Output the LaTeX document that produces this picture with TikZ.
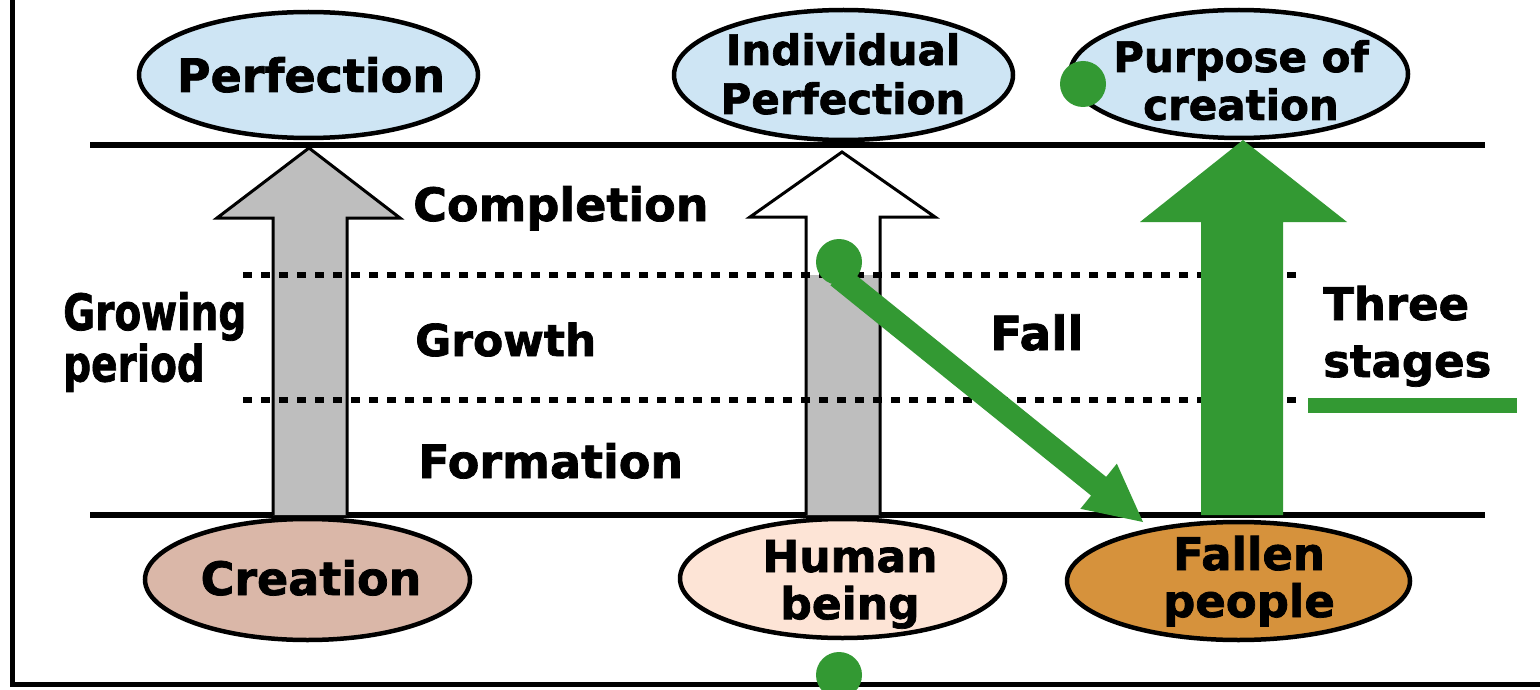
\documentclass[tikz,border=0pt]{standalone}
\usepackage{fontspec}
\setmainfont{DejaVu Sans}[BoldFeatures={FakeBold=1.6}]
\usetikzlibrary{calc,shapes.geometric}
\definecolor{ellblue}{RGB}{206,229,244}
\definecolor{creafill}{RGB}{218,183,168}
\definecolor{humanfill}{RGB}{253,228,214}
\definecolor{fallenfill}{RGB}{214,146,60}
\definecolor{arrgray}{RGB}{190,190,190}
\definecolor{mygreen}{RGB}{51,153,51}
\begin{document}
\begin{tikzpicture}[x=1pt,y=-1pt,
  lbl/.style 2 args={font=\bfseries\fontsize{#1}{#2}\selectfont, inner sep=0pt, text=black},
  ell/.style={ellipse, draw=black, line width=4.5pt, inner sep=0pt},
  blockarrow/.style={draw=black, line width=3pt, line join=miter},
  stageline/.style={line width=5.5pt},
  dotline/.style={line width=6pt, dash pattern=on 9pt off 9pt},
  greendot/.style={circle, fill=mygreen, minimum size=46pt, inner sep=0pt}]
\useasboundingbox (0,0) rectangle (1540,690);
\fill[white] (0,0) rectangle (1540,690);
% frame
\draw[line width=5pt] (12,0) -- (12,684) -- (1540,684);
% stage lines
\coordinate (tl0) at (90,145); \coordinate (tl1) at (1485,145);
\coordinate (bl0) at (90,515); \coordinate (bl1) at (1485,515);
\draw[stageline] (tl0) -- (tl1);
\draw[stageline] (bl0) -- (bl1);
% ellipses
\node[ell, fill=ellblue, minimum width=339pt, minimum height=126pt] (perf) at (308.5,75) {};
\node[ell, fill=ellblue, minimum width=339pt, minimum height=130pt] (indiv) at (843.5,75) {};
\node[ell, fill=ellblue, minimum width=338pt, minimum height=128pt] (purpose) at (1239,74) {};
\node[ell, fill=creafill, minimum width=325pt, minimum height=121pt] (creation) at (307.5,579.5) {};
\node[ell, fill=humanfill, minimum width=325pt, minimum height=119pt] (human) at (842.5,578.5) {};
\node[ell, fill=fallenfill, minimum width=343pt, minimum height=118pt] (fallen) at (1238.5,581) {};
% left gray arrow
\draw[blockarrow, fill=arrgray] (273,515) -- (273,218) -- (217,218) -- (309,148) -- (400,218) -- (347,218) -- (347,515);
% middle arrow
\fill[white] (806,515) -- (806,217) -- (750,217) -- (842,152) -- (935,217) -- (880,217) -- (880,515) -- cycle;
\fill[arrgray] (806,275) rectangle (880,515);
\draw[blockarrow] (806,515) -- (806,217) -- (750,217) -- (842,152) -- (935,217) -- (880,217) -- (880,515);
% dotted lines
\draw[dotline] (243,275) -- (1300,275);
\draw[dotline] (243,400) -- (1300,400);
% green up arrow
\fill[mygreen] (1201,515) -- (1201,222) -- (1140,222) -- (1243,140) -- (1347,222) -- (1283,222) -- (1283,515) -- cycle;
% fall arrow
\coordinate (fs) at (838,276);
\coordinate (ft) at (1143,522);
\coordinate (fb) at ($(ft)!57pt!(fs)$);
\fill[mygreen] ($(fs)!12pt!90:(ft)$) -- ($(fb)!12pt!90:(ft)$) -- ($(fb)!29pt!90:(ft)$) -- (ft)
  -- ($(fb)!29pt!-90:(ft)$) -- ($(fb)!12pt!-90:(ft)$) -- ($(fs)!12pt!-90:(ft)$) -- cycle;
% green underline
\fill[mygreen] (1308,398) rectangle (1517,413);
% texts
\node[lbl={46}{48}, anchor=base] (tperf) at (311,92) {Perfection};
\node[lbl={42}{49}, anchor=base] (tindiv) at (843,65) {\begin{tabular}[t]{@{}c@{}}Individual\\Perfection\end{tabular}};
\node[lbl={42}{48}, anchor=base] (tpurp) at (1241,72) {\begin{tabular}[t]{@{}c@{}}Purpose of\\creation\end{tabular}};
\node[lbl={46}{48}, anchor=base west] (tcompl) at (413,221) {Completion};
\node[lbl={44}{48}, anchor=base west] (tgrowth) at (415,356) {Growth};
\node[lbl={46}{48}, anchor=base west] (tform) at (418,478) {Formation};
\node[lbl={50}{45}, anchor=base west] (tgp) at (63,330) {\scalebox{0.78}[1]{\begin{tabular}[t]{@{}l@{}}Growing\\period\end{tabular}}};
\node[lbl={47}{48}, anchor=base west] (tfall) at (990,350) {Fall};
\node[lbl={45}{57}, anchor=base west] (tthree) at (1323,320) {\begin{tabular}[t]{@{}l@{}}Three\\stages\end{tabular}};
\node[lbl={46}{48}, anchor=base] (tcrea) at (311,595) {Creation};
\node[lbl={44}{46}, anchor=base] (thuman) at (850,572) {\begin{tabular}[t]{@{}c@{}}Human\\being\end{tabular}};
\node[lbl={45}{43}, anchor=base] (tfallen) at (1249,570) {\begin{tabular}[t]{@{}c@{}}Fallen\\people\end{tabular}};
% green dots
\node[greendot] (dot1) at (1083,84) {};
\node[greendot] (dot2) at (839,262) {};
\node[greendot] (dot3) at (839,675) {};
\end{tikzpicture}
\end{document}
